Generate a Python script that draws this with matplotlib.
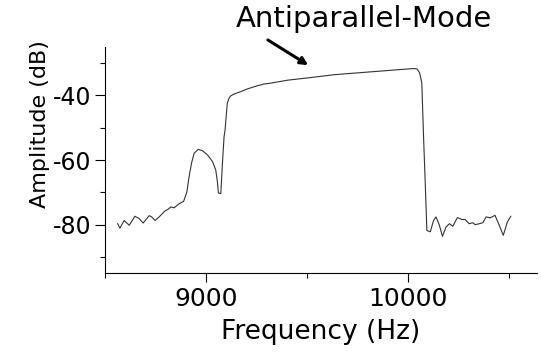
import matplotlib.pyplot as plt
from matplotlib.ticker import MultipleLocator

# frequency (Hz) and amplitude (dB)
freq = [8563, 8574, 8595, 8620, 8648, 8669, 8689, 8719, 8731, 8748, 8768,
        8796, 8813, 8826, 8842, 8867, 8889, 8905, 8916, 8928, 8941, 8961,
        8982, 9007, 9032, 9048, 9056, 9061, 9073, 9081, 9089, 9094, 9105,
        9114, 9123, 9138, 9173, 9204, 9255, 9286, 9321, 9403, 9502, 9634,
        9798, 9962, 10026, 10043, 10056, 10067, 10075, 10084, 10092, 10109,
        10125, 10137, 10154, 10169, 10187, 10204, 10220, 10243, 10265, 10281,
        10301, 10319, 10331, 10352, 10369, 10385, 10405, 10429, 10450, 10470,
        10490, 10507]
amp = [-79.7, -81.1, -78.7, -80.2, -77.4, -78.1, -79.5, -77.2, -77.6, -78.7, -77.6,
       -75.8, -75.2, -74.5, -74.8, -73.5, -72.8, -69.9, -65.2, -61.0, -57.9, -56.7,
       -57.1, -58.4, -60.5, -63.1, -66.7, -70.2, -70.4, -61.0, -52.8, -50.7, -42.4,
       -40.8, -40.1, -39.6, -38.8, -38.0, -37.0, -36.5, -36.2, -35.3, -34.6, -33.6,
       -32.8, -32.0, -31.7, -31.8, -33.0, -36.1, -51.7, -67.3, -81.8, -82.2,
       -78.7, -77.6, -80.2, -83.6, -80.7, -79.7, -80.5, -77.8, -78.4, -78.4,
       -79.7, -79.4, -80.0, -79.7, -79.4, -77.6, -77.9, -77.1, -80.2, -83.3,
       -79.2, -77.4]

plt.rcParams['font.family'] = 'DejaVu Sans'
plt.rcParams['axes.unicode_minus'] = False

fig = plt.figure(figsize=(5.41, 3.58), dpi=100)
ax = fig.add_axes([0.194, 0.237, 0.798, 0.632])

ax.plot(freq, amp, color='#333333', lw=0.8)

ax.set_xlim(8500, 10635)
ax.set_ylim(-95, -25)

ax.spines['top'].set_visible(False)
ax.spines['right'].set_visible(False)

ax.set_xticks([9000, 10000])
ax.xaxis.set_minor_locator(MultipleLocator(500))
ax.set_yticks([-40, -60, -80])
ax.yaxis.set_minor_locator(MultipleLocator(10))
ax.tick_params(which='major', direction='out', length=6.5, width=0.8, labelsize=18)
ax.tick_params(which='minor', direction='out', length=3.5, width=0.8)
ax.tick_params(axis='y', which='major', length=7, labelsize=17, pad=3)

ax.set_xlabel('Frequency (Hz)', fontsize=19, labelpad=6)
ax.set_ylabel('Amplitude (dB)', fontsize=16)
ax.yaxis.set_label_coords(-0.128, 0.66)

# annotation with arrow
ax.annotate('', xy=(9517, -31.1), xytext=(9294, -22.4),
            arrowprops=dict(arrowstyle='-|>', lw=2.2, color='black', mutation_scale=11),
            annotation_clip=False)
fig.text(364 / 541, 1 - 27 / 358, 'Antiparallel-Mode', fontsize=21,
         ha='center', va='baseline')

fig.savefig('out.png', dpi=100)
